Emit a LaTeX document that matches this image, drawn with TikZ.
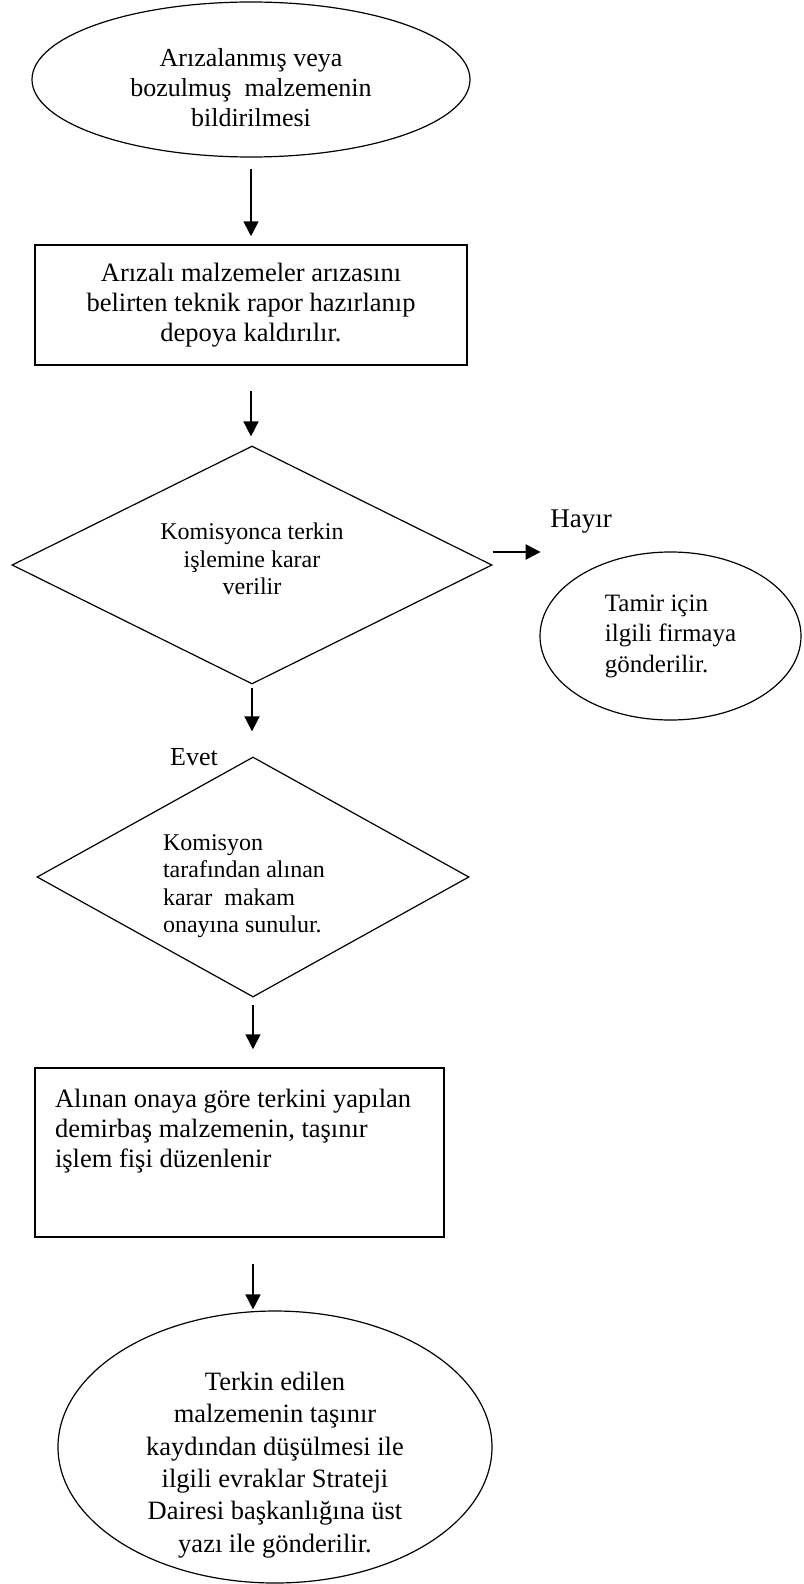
\documentclass[tikz,border=0pt]{standalone}
\usepackage{fontspec}
\setmainfont{Liberation Serif}
\usetikzlibrary{shapes.geometric,arrows.meta}

\tikzset{
  endpoint/.style={draw, ellipse, line width=1.2pt, inner sep=0pt, align=center},
  process/.style={draw, rectangle, line width=1.5pt, inner sep=0pt, align=center},
  decision/.style={draw, diamond, aspect=2, line width=1.2pt, inner sep=0pt, align=center},
  arr/.style={-{Triangle[width=15pt,length=15pt]}, line width=1.6pt},
}

\begin{document}
\begin{tikzpicture}[x=1pt,y=-1pt]
        \useasboundingbox (0,0) rectangle (803,1584);
        \node[endpoint, minimum width=438pt, minimum height=155pt] (bildirim) at (251,79.5) {};
        \node[align=center, font=\fontsize{26}{30}\selectfont] (bildirimyazi) at (251,87.5)
            {Arızalanmış veya\\ bozulmuş\ \ malzemenin\\ bildirilmesi};
        \node[process, minimum width=432pt, minimum height=120pt, font=\fontsize{26.5}{30}\selectfont] (rapor) at (251,305)
            {Arızalı malzemeler arızasını\\ belirten teknik rapor hazırlanıp\\ depoya kaldırılır.};
        \node[decision, minimum width=480pt, minimum height=238pt] (terkin) at (252,565) {};
        \node[align=center, font=\fontsize{24}{27.5}\selectfont] (terkinyazi) at (252,559)
            {Komisyonca terkin\\ işlemine karar\\ verilir};
        \node[endpoint, minimum width=261pt, minimum height=168pt, align=left, font=\fontsize{25}{30.5}\selectfont] (tamir) at (670.5,636)
            {Tamir için\\ ilgili firmaya\\ gönderilir.};
        \node[decision, minimum width=432pt, minimum height=240pt] (onay) at (253,877) {};
        \node[align=left, font=\fontsize{24}{27.5}\selectfont] (onayyazi) at (244,886)
            {Komisyon\\ tarafından alınan\\ karar\ \ makam\\ onayına sunulur.};
        \node[process, minimum width=409pt, minimum height=169pt] (fis) at (239.5,1152.5)
            {\parbox[c][127pt][t]{369pt}{\raggedright\fontsize{26.5}{30}\selectfont Alınan onaya göre terkini yapılan\\ demirbaş malzemenin, taşınır\\ işlem fişi düzenlenir}};
        \node[endpoint, minimum width=434pt, minimum height=272pt] (strateji) at (275,1447) {};
        \node[align=center, font=\fontsize{26.5}{32.4}\selectfont] (stratejiyazi) at (275,1465)
            {Terkin edilen\\ malzemenin taşınır\\ kaydından düşülmesi ile\\ ilgili evraklar Strateji\\ Dairesi başkanlığına üst\\ yazı ile gönderilir.};
        \node[font=\fontsize{27}{30}\selectfont] (hayir) at (581,522) {Hayır};
        \node[font=\fontsize{26}{30}\selectfont] (evet) at (194,757) {Evet};
        \coordinate (hayirbas) at ([yshift=13pt]terkin.east);
        \coordinate (hayirson) at ([xshift=48pt]hayirbas);
        \draw[arr, shorten <=11pt, shorten >=8pt] (bildirim.south) -- (bildirim.south |- rapor.north);
        \draw[arr, shorten <=25pt, shorten >=9pt] (rapor.south) -- (rapor.south |- terkin.north);
        \draw[arr, line width=2.5pt] (hayirbas) -- (hayirson);
        \draw[arr, shorten <=3pt, shorten >=25pt] (terkin.south) -- (terkin.south |- onay.north);
        \draw[arr, shorten <=7pt, shorten >=18pt] (onay.south) -- (onay.south |- fis.north);
        \draw[arr, shorten <=26pt, shorten >=1pt] (onay.south |- fis.south) -- (onay.south |- strateji.north);
\end{tikzpicture}
\end{document}
